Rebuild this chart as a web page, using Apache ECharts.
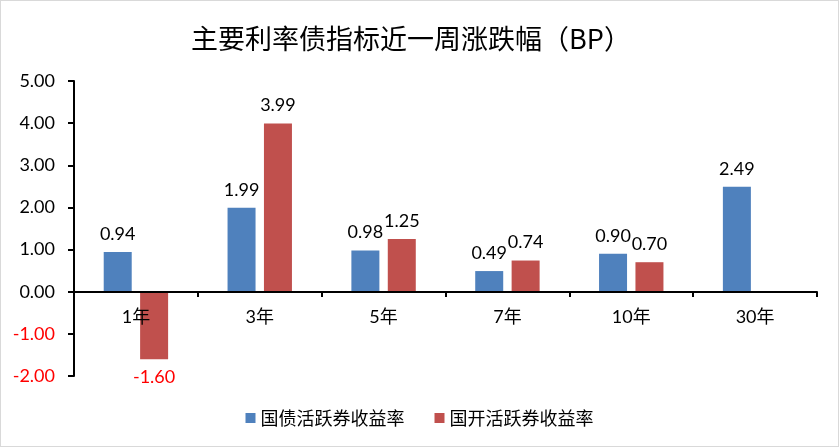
<!DOCTYPE html>
<html>
<head>
<meta charset="utf-8">
<script src="https://cdn.jsdelivr.net/npm/echarts@6/dist/echarts.min.js"></script>
<style>
  html, body { margin: 0; padding: 0; background: #fff; }
  #main { width: 837px; height: 445px; border: 1px solid #d9d9d9; }
</style>
</head>
<body>
<div id="main"></div>
<script>
// 数据
const categories = ["1年", "3年", "5年", "7年", "10年", "30年"];
const govBond = [0.94, 1.99, 0.98, 0.49, 0.90, 2.49];
const cdbBond = [-1.60, 3.99, 1.25, 0.74, 0.70, null];
const seriesNames = ["国债活跃券收益率", "国开活跃券收益率"];

const font = "Lato, 'Noto Sans CJK SC', sans-serif";

function labelOpt() {
  return {
    show: true,
    fontSize: 18,
    fontFamily: font,
    color: "#000",
    distance: 9,
    formatter: p => p.value.toFixed(2),
    position: "top"
  };
}

function buildData(arr) {
  return arr.map(v => {
    if (v === null) return null;
    if (v < 0) {
      return { value: v, label: { position: "bottom", color: "#ff0000" } };
    }
    return v;
  });
}

const chart = echarts.init(document.getElementById("main"));
let option = {
  animation: false,
  title: {
    text: "主要利率债指标近一周涨跌幅（BP）",
    left: 405,
    top: 19,
    textAlign: "center",
    textStyle: {
      fontFamily: "'Noto Sans CJK SC', sans-serif",
      fontWeight: "normal",
      fontSize: 27,
      color: "#000"
    }
  },
  legend: {
    data: seriesNames,
    bottom: 14,
    left: "center",
    itemWidth: 10,
    itemHeight: 10,
    itemGap: 30,
    icon: "rect",
    textStyle: {
      fontFamily: "'Noto Sans CJK SC', sans-serif",
      fontSize: 18,
      color: "#000"
    }
  },
  grid: {
    left: 73,
    right: 21,
    top: 80,
    bottom: 70,
    containLabel: false
  },
  xAxis: {
    type: "category",
    data: categories,
    offset: -84,
    z: 10,
    axisLine: { onZero: false, lineStyle: { color: "#000", width: 2 } },
    axisTick: { show: true, length: 5, lineStyle: { color: "#000", width: 2 } },
    axisLabel: {
      fontFamily: font,
      fontSize: 18,
      color: "#000",
      margin: 16
    }
  },
  yAxis: {
    type: "value",
    min: -2,
    max: 5,
    interval: 1,
    splitLine: { show: false },
    axisLine: { show: true, lineStyle: { color: "#000", width: 2 } },
    axisTick: { show: true, length: 6, lineStyle: { color: "#000", width: 2 } },
    axisLabel: {
      fontFamily: font,
      fontSize: 18,
      margin: 19,
      formatter: v => v.toFixed(2),
      color: v => (Number(v) < 0 ? "#ff0000" : "#000")
    }
  },
  series: [
    {
      name: seriesNames[0],
      type: "bar",
      data: buildData(govBond),
      barWidth: 28,
      barGap: "30%",
      itemStyle: { color: "#4f81bd" },
      label: labelOpt()
    },
    {
      name: seriesNames[1],
      type: "bar",
      data: buildData(cdbBond),
      barWidth: 28,
      barGap: "30%",
      itemStyle: { color: "#c0504d" },
      label: labelOpt()
    }
  ]
};
chart.setOption(option);
</script>
</body>
</html>
